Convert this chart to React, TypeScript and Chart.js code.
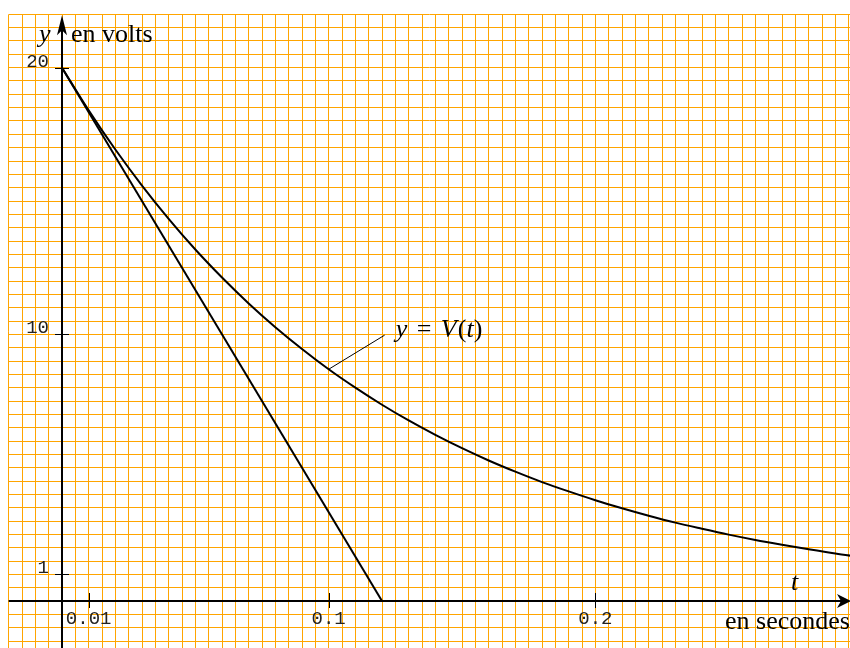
import React, { useEffect, useRef } from 'react';
import { Chart, registerables } from 'chart.js';

Chart.register(...registerables);

// Discharge curve V(t), in seconds and volts
const timeSeconds = [
  0, 0.01, 0.02, 0.03, 0.04, 0.05, 0.06, 0.07, 0.08, 0.09, 0.1,
  0.11, 0.12, 0.13, 0.14, 0.15, 0.16, 0.17, 0.18, 0.19, 0.2,
  0.21, 0.22, 0.23, 0.24, 0.25, 0.26, 0.27, 0.28, 0.29, 0.3,
];
const voltageVolts = [
  20, 18.4, 16.93, 15.58, 14.33, 13.18, 12.13, 11.16, 10.27, 9.45, 8.69,
  8.0, 7.36, 6.77, 6.23, 5.73, 5.27, 4.85, 4.46, 4.11, 3.78,
  3.48, 3.2, 2.94, 2.71, 2.49, 2.29, 2.11, 1.94, 1.78, 1.64,
];

// Tangent at the origin
const tangentTime = [0, 0.12];
const tangentVolts = [20, 0];

// Leader line for the curve's name
const leaderTime = [0.1, 0.121];
const leaderVolts = [8.69, 9.97];

// Axis graduations
const xTickValues = [0.01, 0.1, 0.2];
const xTickLabels = ['0.01', '0.1', '0.2'];
const yTickValues = [20, 10, 1];
const yTickLabels = ['20', '10', '1'];

// Visible window of the graph paper
const xRange = [-0.02, 0.2955];
const yRange = [-1.762, 22];
const xGridStep = 0.005;
const yGridStep = 0.5;

const GRID_COLOR = '#ffa500';
const SERIF = '"Liberation Serif", "Times New Roman", serif';
const MONO = '"Liberation Mono", "DejaVu Sans Mono", monospace';
const TEXT_SIZE = 26;

const toPoints = (xs: number[], ys: number[]) => xs.map((x, i) => ({ x, y: ys[i] }));

// [text, italic, extra space after]
type Piece = [string, boolean, number?];

function drawPieces(ctx: CanvasRenderingContext2D, pieces: Piece[], x: number, y: number, size: number) {
  let cx = x;
  for (const [text, italic, after] of pieces) {
    ctx.font = `${italic ? 'italic ' : ''}${size}px ${SERIF}`;
    ctx.fillText(text, cx, y);
    cx += ctx.measureText(text).width + (after || 0);
  }
}

const axesPlugin = {
  id: 'axesAndLabels',
  beforeDatasetsDraw(chart: any) {
    const { ctx, chartArea, scales } = chart;
    const xs = scales.x;
    const ys = scales.y;
    const x0 = xs.getPixelForValue(0);
    const y0 = ys.getPixelForValue(0);
    ctx.save();
    ctx.strokeStyle = '#000';
    ctx.fillStyle = '#000';
    ctx.lineWidth = 2;

    // horizontal axis
    ctx.beginPath();
    ctx.moveTo(chartArea.left, y0);
    ctx.lineTo(chartArea.right - 6, y0);
    ctx.stroke();
    // vertical axis
    ctx.beginPath();
    ctx.moveTo(x0, chartArea.bottom);
    ctx.lineTo(x0, chartArea.top + 10);
    ctx.stroke();

    // arrow heads
    const tipX = chartArea.right + 1;
    ctx.beginPath();
    ctx.moveTo(tipX, y0);
    ctx.lineTo(tipX - 14, y0 - 7);
    ctx.lineTo(tipX - 10, y0);
    ctx.lineTo(tipX - 14, y0 + 7);
    ctx.closePath();
    ctx.fill();

    const tipY = chartArea.top + 1;
    ctx.beginPath();
    ctx.moveTo(x0, tipY);
    ctx.lineTo(x0 + 5, tipY + 20);
    ctx.lineTo(x0, tipY + 15);
    ctx.lineTo(x0 - 5, tipY + 20);
    ctx.closePath();
    ctx.fill();

    // tick marks
    ctx.lineWidth = 1;
    ctx.beginPath();
    for (const v of yTickValues) {
      const py = Math.round(ys.getPixelForValue(v)) + 0.5;
      ctx.moveTo(x0 - 7, py);
      ctx.lineTo(x0 + 7, py);
    }
    for (const v of xTickValues) {
      const px = Math.round(xs.getPixelForValue(v)) + 0.5;
      ctx.moveTo(px, y0 - 8);
      ctx.lineTo(px, y0 + 7);
    }
    ctx.stroke();
    ctx.restore();
  },
  afterDatasetsDraw(chart: any) {
    const { ctx, scales } = chart;
    const xs = scales.x;
    const ys = scales.y;
    const x0 = xs.getPixelForValue(0);
    const y0 = ys.getPixelForValue(0);
    ctx.save();

    // graduation labels
    ctx.fillStyle = '#222';
    ctx.font = `19px ${MONO}`;
    ctx.textBaseline = 'alphabetic';
    ctx.textAlign = 'right';
    yTickValues.forEach((v, i) => {
      ctx.fillText(yTickLabels[i], x0 - 13, ys.getPixelForValue(v) - 1);
    });
    ctx.textAlign = 'center';
    xTickValues.forEach((v, i) => {
      ctx.fillText(xTickLabels[i], xs.getPixelForValue(v), y0 + 23);
    });

    // axis names
    ctx.fillStyle = '#000';
    ctx.textAlign = 'left';
    drawPieces(ctx, [['y', true]], x0 - 23, 42, TEXT_SIZE);
    drawPieces(ctx, [['en volts', false]], x0 + 9, 42, TEXT_SIZE);
    drawPieces(ctx, [['t', true]], 791, y0 - 11, TEXT_SIZE);
    drawPieces(ctx, [['en secondes', false]], 725, y0 + 28, TEXT_SIZE);

    // curve name at the end of the leader line
    const lx = xs.getPixelForValue(leaderTime[1]);
    const ly = ys.getPixelForValue(leaderVolts[1]);
    drawPieces(
      ctx,
      [['y', true, 3], [' = ', false, 3], ['V', true, 1], ['(', false], ['t', true], [')', false]],
      lx + 11,
      ly + 2,
      TEXT_SIZE,
    );
    ctx.restore();
  },
};

export default function App() {
  const canvasRef = useRef<HTMLCanvasElement | null>(null);

  useEffect(() => {
    const canvas = canvasRef.current;
    if (!canvas) return;
    const chart = new Chart(canvas, {
      type: 'line',
      data: {
        datasets: [
          {
            label: 'V(t)',
            data: toPoints(timeSeconds, voltageVolts),
            borderColor: '#000',
            borderWidth: 2,
            pointRadius: 0,
            cubicInterpolationMode: 'monotone',
            fill: false,
          },
          {
            label: 'tangente',
            data: toPoints(tangentTime, tangentVolts),
            borderColor: '#000',
            borderWidth: 2,
            pointRadius: 0,
            fill: false,
          },
          {
            label: 'repère',
            data: toPoints(leaderTime, leaderVolts),
            borderColor: '#000',
            borderWidth: 1,
            pointRadius: 0,
            fill: false,
          },
        ],
      },
      options: {
        animation: false,
        responsive: false,
        devicePixelRatio: 1,
        parsing: false,
        layout: { padding: { left: 8.67, top: 14.33, right: 0, bottom: 0 } },
        plugins: {
          legend: { display: false },
          tooltip: { enabled: false },
          title: { display: false },
        },
        events: [],
        scales: {
          x: {
            type: 'linear',
            min: xRange[0],
            max: xRange[1],
            border: { display: false },
            grid: { color: GRID_COLOR, lineWidth: 1, drawTicks: false },
            ticks: { display: false, stepSize: xGridStep, includeBounds: false, autoSkip: false },
          },
          y: {
            type: 'linear',
            min: yRange[0],
            max: yRange[1],
            border: { display: false },
            grid: { color: GRID_COLOR, lineWidth: 1, drawTicks: false },
            ticks: { display: false, stepSize: yGridStep, includeBounds: false, autoSkip: false },
          },
        },
      },
      plugins: [axesPlugin],
    } as any);
    return () => chart.destroy();
  }, []);

  return (
    <div style={{ position: 'fixed', left: 0, top: 0, width: 850, height: 648, background: '#fff' }}>
      <canvas ref={canvasRef} width={850} height={648} style={{ display: 'block' }} />
    </div>
  );
}
